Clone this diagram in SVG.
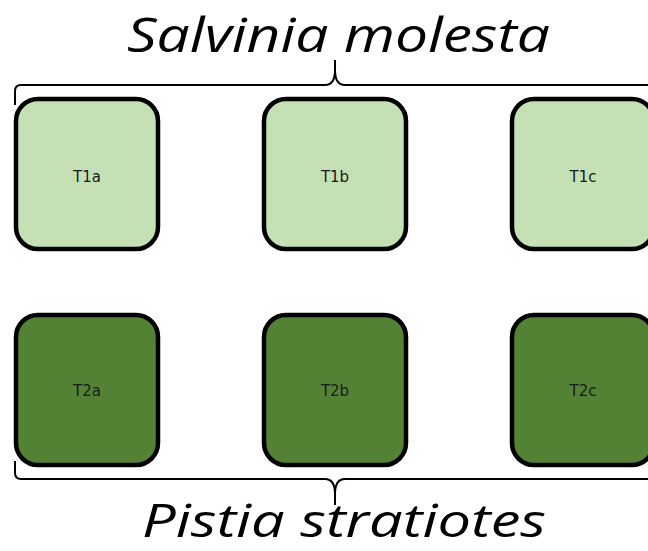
<svg xmlns="http://www.w3.org/2000/svg" width="648" height="551" viewBox="0 0 648 551">
<style>
.box{stroke:#000;stroke-width:4.5}
.t1{fill:#C5E0B4}
.t2{fill:#548235}
.lbl{font-family:"DejaVu Sans",sans-serif;font-size:15px;fill:#1a1a1a;text-anchor:middle;dominant-baseline:central}
.title{font-family:"Open Sans",sans-serif;font-style:italic;font-size:48px;fill:#000}
.brace{fill:none;stroke:#000;stroke-width:2}
</style>
<rect width="648" height="551" fill="#fff"/>
<text class="title" x="127" y="52" textLength="423" lengthAdjust="spacingAndGlyphs">Salvinia molesta</text>
<text class="title" x="142" y="537" style="font-size:46px" textLength="404" lengthAdjust="spacingAndGlyphs">Pistia stratiotes</text>
<g id="connectors">
<path class="brace" d="M15,105 L15,91 Q15,85 21,85 L325,85 Q335,85 335,70 L335,60 M335,70 Q335,85 345,85 L648,85"/>
<path class="brace" d="M15,461 L15,473 Q15,479 21,479 L325,479 Q335,479 335,494 L335,505 M335,494 Q335,479 345,479 L648,479"/>
</g>
<g id="T1a"><rect class="box t1" x="16" y="99" width="142" height="150" rx="22"/><text class="lbl" x="87" y="177">T1a</text></g>
<g id="T1b"><rect class="box t1" x="264" y="99" width="142" height="150" rx="22"/><text class="lbl" x="335" y="177">T1b</text></g>
<g id="T1c"><rect class="box t1" x="512" y="99" width="142" height="150" rx="22"/><text class="lbl" x="583" y="177">T1c</text></g>
<g id="T2a"><rect class="box t2" x="16" y="315" width="142" height="150" rx="22"/><text class="lbl" x="87" y="391">T2a</text></g>
<g id="T2b"><rect class="box t2" x="264" y="315" width="142" height="150" rx="22"/><text class="lbl" x="335" y="391">T2b</text></g>
<g id="T2c"><rect class="box t2" x="512" y="315" width="142" height="150" rx="22"/><text class="lbl" x="583" y="391">T2c</text></g>
</svg>
